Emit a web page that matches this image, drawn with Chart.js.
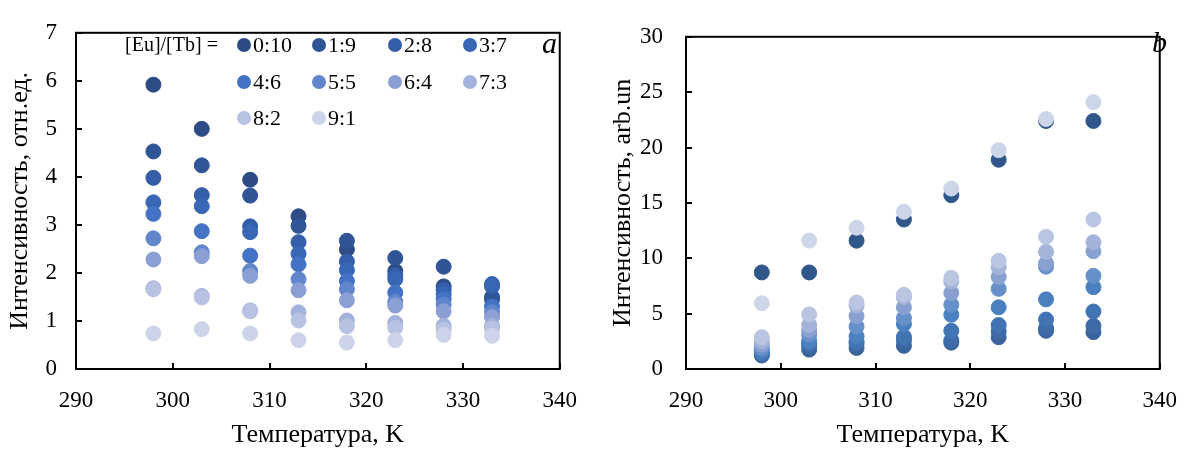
<!DOCTYPE html>
<html>
<head>
<meta charset="utf-8">
<script src="https://cdn.jsdelivr.net/npm/chart.js@4.4.1/dist/chart.umd.min.js"></script>
<style>
  body { margin: 0; background: #fff; }
  #wrap { position: relative; width: 1195px; height: 449px; font-family: "Liberation Serif", serif; }
  .box { position: absolute; top: 0; height: 449px; }
  #boxA { left: 0; width: 595px; }
  #boxB { left: 595px; width: 600px; }
  .lg { position: absolute; font-size: 22px; line-height: 22px; color: #000; white-space: nowrap; }
  .dot { position: absolute; width: 14px; height: 14px; border-radius: 50%; }
  .tag { position: absolute; font-style: italic; font-size: 30px; line-height: 30px; }
</style>
</head>
<body>
<div id="wrap">
  <div class="box" id="boxA"><canvas id="chartA"></canvas></div>
  <div class="box" id="boxB"><canvas id="chartB"></canvas></div>
  <div id="legend"></div>
  <div class="tag" style="left:542px; top:28px;">a</div>
  <div class="tag" style="left:1152px; top:27px;">b</div>
</div>
<script>
// temperatures, K
const temps = [298, 303, 308, 313, 318, 323, 328, 333];
// [Eu]/[Tb] ratios
const ratios = ['0:10', '1:9', '2:8', '3:7', '4:6', '5:5', '6:4', '7:3', '8:2', '9:1'];

// panel a, intensity (отн.ед.), one array per ratio
const a_0_10 = [5.92, 5.00, 3.94, 3.18, 2.49, 2.04, 1.72, 1.45];
const a_1_9  = [4.53, 4.24, 3.61, 2.98, 2.67, 2.31, 2.13, 1.50];
const a_2_8  = [3.98, 3.62, 2.97, 2.64, 2.24, 1.95, 1.65, 1.72];
const a_3_7  = [3.47, 3.39, 2.85, 2.40, 2.06, 1.87, 1.55, 1.77];
const a_4_6  = [3.23, 2.87, 2.36, 2.18, 1.83, 1.59, 1.45, 1.30];
const a_5_5  = [2.72, 2.43, 2.04, 1.87, 1.66, 1.40, 1.34, 1.18];
const a_6_4  = [2.28, 2.35, 1.94, 1.64, 1.43, 1.32, 1.20, 1.08];
const a_7_3  = [1.68, 1.52, 1.22, 1.18, 1.01, 0.96, 0.90, 0.90];
const a_8_2  = [1.66, 1.49, 1.20, 1.01, 0.89, 0.86, 0.82, 0.84];
const a_9_1  = [0.74, 0.83, 0.74, 0.60, 0.55, 0.60, 0.71, 0.69];

// panel b, intensity (arb.un)
const b_0_10 = [8.72, 8.72, 11.59, 13.5, 15.7, 18.9, 22.4, 22.4];
const b_1_9  = [1.22, 1.75, 1.90, 2.09, 2.38, 2.87, 3.45, 3.33];
const b_2_8  = [1.30, 2.09, 2.29, 2.60, 2.58, 3.39, 3.70, 3.89];
const b_3_7  = [1.45, 2.30, 2.50, 2.90, 3.45, 3.97, 4.46, 5.19];
const b_4_6  = [1.65, 2.52, 2.96, 4.06, 4.90, 5.57, 6.29, 7.39];
const b_5_5  = [1.90, 3.10, 3.83, 4.61, 5.80, 7.24, 9.24, 8.41];
const b_6_4  = [2.20, 3.50, 4.78, 5.57, 6.87, 8.32, 9.54, 10.63];
const b_7_3  = [2.50, 3.97, 5.71, 6.50, 7.90, 9.19, 10.58, 11.45];
const b_8_2  = [2.87, 4.93, 6.00, 6.70, 8.23, 9.77, 11.94, 13.5];
const b_9_1  = [5.94, 11.6, 12.76, 14.2, 16.3, 19.77, 22.58, 24.1];

const seriesA = [a_0_10, a_1_9, a_2_8, a_3_7, a_4_6, a_5_5, a_6_4, a_7_3, a_8_2, a_9_1];
const seriesB = [b_0_10, b_1_9, b_2_8, b_3_7, b_4_6, b_5_5, b_6_4, b_7_3, b_8_2, b_9_1];

const colorsA = ['#2d4b85', '#2f5597', '#345ea8', '#3966b5', '#4472c4', '#6186cc', '#8b9fd4', '#a3b2dc', '#b8c3e3', '#cdd4e9'];
const colorsB = ['#30578a', '#3a639c', '#3e6ba8', '#4273b3', '#4a7fc0', '#6690c9', '#89a1d0', '#a3b3d9', '#b9c5e1', '#cdd6e8'];

const FONT = 'Liberation Serif';

function makeSets(series, colors) {
    return series.map((vals, i) => ({
        label: ratios[i],
        data: vals.map((v, j) => ({ x: temps[j], y: v })),
        backgroundColor: colors[i],
        borderColor: colors[i],
        borderWidth: 1,
        pointRadius: 7.5,
        pointHoverRadius: 7.5,
        // lighter ratios are drawn on top
        order: series.length - 1 - i
    }));
}

// black frame around the plot area + inside tick marks
const framePlugin = {
    id: 'frame',
    afterDraw(chart) {
        const { ctx, chartArea: c, scales } = chart;
        ctx.save();
        ctx.strokeStyle = '#000';
        ctx.lineWidth = 2;
        ctx.strokeRect(c.left, c.top, c.right - c.left, c.bottom - c.top);
        ctx.beginPath();
        scales.x.ticks.forEach(t => {
            const px = Math.round(scales.x.getPixelForValue(t.value));
            ctx.moveTo(px, c.bottom);
            ctx.lineTo(px, c.bottom - 6);
        });
        scales.y.ticks.forEach(t => {
            const py = Math.round(scales.y.getPixelForValue(t.value));
            ctx.moveTo(c.left, py);
            ctx.lineTo(c.left + 6, py);
        });
        ctx.stroke();
        ctx.restore();
    }
};

function axisOpts(min, max, step, title, isY, yWidth, labelPad, titlePad) {
    return {
        type: 'linear',
        min: min,
        max: max,
        ticks: {
            stepSize: step,
            color: '#000',
            font: { family: FONT, size: 23 },
            padding: labelPad
        },
        grid: { display: false, drawTicks: false },
        border: { display: false },
        title: {
            display: true,
            text: title,
            color: '#000',
            font: { family: FONT, size: 26 },
            padding: isY ? { top: titlePad, bottom: 0 } : { top: 0, bottom: -2 }
        },
        afterFit(scale) {
            if (isY) scale.width = yWidth; else scale.height = 80;
        }
    };
}

function makeChart(id, series, colors, ymax, ystep, ytitle, yWidth, yPad, titlePad, rightPad) {
    return new Chart(document.getElementById(id), {
        type: 'scatter',
        data: { datasets: makeSets(series, colors) },
        options: {
            responsive: true,
            maintainAspectRatio: false,
            animation: false,
            layout: { padding: { top: 24, right: rightPad, left: 0, bottom: 0 } },
            plugins: { legend: { display: false }, tooltip: { enabled: false } },
            scales: {
                x: axisOpts(290, 340, 10, 'Температура, K', false, 0, 18, 0),
                y: axisOpts(0, ymax, ystep, ytitle, true, yWidth, yPad, titlePad)
            }
        },
        plugins: [framePlugin]
    });
}

makeChart('chartA', seriesA, colorsA, 7, 1, 'Интенсивность, отн.ед.', 76, 19, 5, 26);
makeChart('chartB', seriesB, colorsB, 30, 5, 'Интенсивность, arb.un', 91, 23, 13, 18);

// legend inside panel a
const legend = document.getElementById('legend');
const head = document.createElement('div');
head.className = 'lg';
head.style.left = '125px';
head.style.top = '33px';
head.style.fontSize = '20px';
head.textContent = '[Eu]/[Tb] =';
legend.appendChild(head);

const colX = [244, 319, 395, 470];
const rowY = [45, 82, 118];
ratios.forEach((r, i) => {
    const cx = colX[i % 4];
    const cy = rowY[Math.floor(i / 4)];
    const dot = document.createElement('div');
    dot.className = 'dot';
    dot.style.left = (cx - 7) + 'px';
    dot.style.top = (cy - 7) + 'px';
    dot.style.background = colorsA[i];
    legend.appendChild(dot);
    const t = document.createElement('div');
    t.className = 'lg';
    t.style.left = (cx + 9) + 'px';
    t.style.top = (cy - 11) + 'px';
    t.textContent = r;
    legend.appendChild(t);
});
</script>
</body>
</html>
